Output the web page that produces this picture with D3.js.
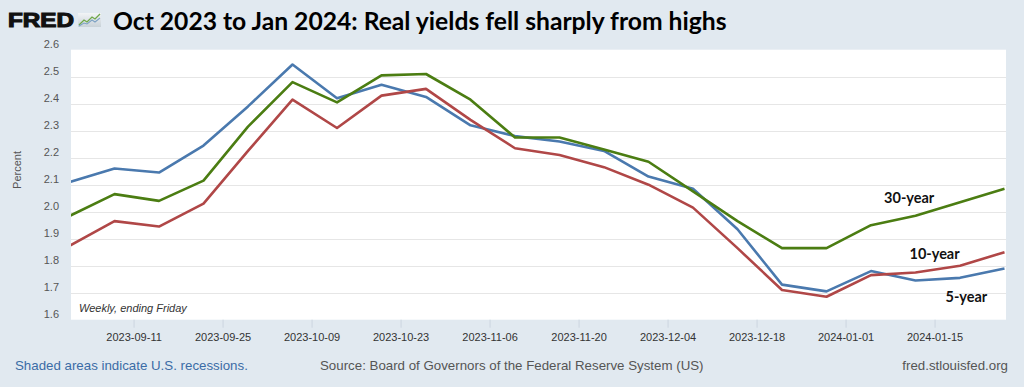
<!DOCTYPE html>
<html>
<head>
<meta charset="utf-8">
<script src="https://cdn.jsdelivr.net/npm/d3@7"></script>
<style>
  html, body { margin: 0; padding: 0; background: #e1e9f0; }
  svg { display: block; }
</style>
</head>
<body>
<div id="chart"></div>
<script>
// weekly, ending Friday
const dates = [
  "2023-09-01", "2023-09-08", "2023-09-15", "2023-09-22", "2023-09-29",
  "2023-10-06", "2023-10-13", "2023-10-20", "2023-10-27",
  "2023-11-03", "2023-11-10", "2023-11-17", "2023-11-24",
  "2023-12-01", "2023-12-08", "2023-12-15", "2023-12-22", "2023-12-29",
  "2024-01-05", "2024-01-12", "2024-01-19", "2024-01-26"
];
const fiveYear = [2.11, 2.16, 2.145, 2.245, 2.39, 2.545, 2.42, 2.47, 2.425, 2.32, 2.28, 2.26, 2.225, 2.13, 2.085, 1.935, 1.73, 1.705, 1.78, 1.745, 1.755, 1.79];
const tenYear = [1.875, 1.965, 1.945, 2.03, 2.225, 2.415, 2.31, 2.43, 2.455, 2.34, 2.235, 2.21, 2.165, 2.1, 2.015, 1.865, 1.71, 1.685, 1.765, 1.775, 1.8, 1.85];
const thirtyYear = [1.985, 2.065, 2.04, 2.115, 2.315, 2.48, 2.405, 2.505, 2.51, 2.415, 2.275, 2.275, 2.23, 2.185, 2.075, 1.965, 1.865, 1.865, 1.95, 1.985, 2.035, 2.085];

const tickDates = ["2023-09-11", "2023-09-25", "2023-10-09", "2023-10-23", "2023-11-06", "2023-11-20", "2023-12-04", "2023-12-18", "2024-01-01", "2024-01-15"];
const yTicks = [1.6, 1.7, 1.8, 1.9, 2.0, 2.1, 2.2, 2.3, 2.4, 2.5, 2.6];

// annotation anchors (date, value) for series labels
const seriesLabels = [
  {name: "30-year", date: "2024-01-11", value: 2.032},
  {name: "10-year", date: "2024-01-15", value: 1.825},
  {name: "5-year",  date: "2024-01-20", value: 1.665}
];

const title = "Oct 2023 to Jan 2024: Real yields fell sharply from highs";

const width = 1024, height = 387;
const parse = d3.utcParse("%Y-%m-%d");

const series = [
  {name: "5-year", values: fiveYear, color: "#4a79ae"},
  {name: "10-year", values: tenYear, color: "#b04747"},
  {name: "30-year", values: thirtyYear, color: "#4b7d12"}
];

const plot = {left: 71, right: 1006, top: 49.7, bottom: 319.7};

const x = d3.scaleUtc()
  .domain([parse(dates[0]), parse(dates[dates.length - 1])])
  .range([70, 1004.5]);
const y = d3.scaleLinear()
  .domain([1.6, 2.6])
  .range([plot.bottom, plot.top]);

const svg = d3.select("#chart").append("svg")
  .attr("width", width)
  .attr("height", height)
  .attr("font-family", "'Liberation Sans', Arial, sans-serif");

svg.append("rect")
  .attr("width", width).attr("height", height)
  .attr("fill", "#e1e9f0");

// FRED logo
svg.append("text")
  .attr("x", 8).attr("y", 27)
  .attr("font-size", 19.5)
  .attr("font-weight", 900)
  .attr("fill", "#111")
  .attr("stroke", "#111")
  .attr("stroke-width", 1.1)
  .attr("textLength", 66)
  .attr("lengthAdjust", "spacingAndGlyphs")
  .text("FRED");

const logo = svg.append("g").attr("transform", "translate(78,13)");
const grad = svg.append("defs").append("linearGradient")
  .attr("id", "lg").attr("x1", 0).attr("y1", 0).attr("x2", 0).attr("y2", 1);
grad.append("stop").attr("offset", 0).attr("stop-color", "#f2f4f6");
grad.append("stop").attr("offset", 1).attr("stop-color", "#c9d2d8");
logo.append("rect").attr("width", 23).attr("height", 14).attr("fill", "url(#lg)");
logo.append("path")
  .attr("d", "M1,12 L6,7 L9,9 L14,4 L17,6 L22,1")
  .attr("fill", "none").attr("stroke", "#6fa84a").attr("stroke-width", 1.3);
logo.append("path")
  .attr("d", "M1,13 L6,10 L9,11 L14,7 L17,9 L22,5")
  .attr("fill", "none").attr("stroke", "#7ea3c4").attr("stroke-width", 1.1);

// title, sized to the reference width
const titleText = svg.append("text")
  .attr("x", 113).attr("y", 30)
  .attr("font-family", "Lato, 'Open Sans', sans-serif")
  .attr("font-weight", 700)
  .attr("font-size", 23)
  .attr("fill", "#000")
  .text(title);
const tw = titleText.node().getComputedTextLength();
titleText.attr("font-size", 23 * 614 / tw);

// plot background
svg.append("rect")
  .attr("x", plot.left).attr("y", plot.top)
  .attr("width", plot.right - plot.left)
  .attr("height", plot.bottom - plot.top)
  .attr("fill", "#fff");

svg.append("clipPath").attr("id", "clip")
  .append("rect")
  .attr("x", plot.left).attr("y", plot.top - 3)
  .attr("width", plot.right - plot.left)
  .attr("height", plot.bottom - plot.top + 3);

// gridlines
svg.append("g")
  .selectAll("line")
  .data(yTicks.filter(d => d > 1.6 && d < 2.6))
  .join("line")
  .attr("x1", plot.left).attr("x2", plot.right)
  .attr("y1", d => Math.round(y(d)) + 0.5)
  .attr("y2", d => Math.round(y(d)) + 0.5)
  .attr("stroke", "#e6e6e6");

// y labels
svg.append("g")
  .selectAll("text")
  .data(yTicks)
  .join("text")
  .attr("x", 59)
  .attr("y", d => y(d) - 1.5)
  .attr("text-anchor", "end")
  .attr("font-size", 11)
  .attr("fill", "#555")
  .text(d => d3.format(".1f")(d));

svg.append("text")
  .attr("transform", "translate(21,170) rotate(-90)")
  .attr("text-anchor", "middle")
  .attr("font-size", 11)
  .attr("fill", "#555")
  .text("Percent");

// x axis
const xAxis = d3.axisBottom(x)
  .tickValues(tickDates.map(parse))
  .tickFormat(d3.utcFormat("%Y-%m-%d"))
  .tickSize(8)
  .tickPadding(6);
const gx = svg.append("g")
  .attr("transform", `translate(0,${plot.bottom})`)
  .call(xAxis);
gx.select(".domain").remove();
gx.selectAll(".tick line").attr("stroke", "#ccd6e0");
gx.selectAll(".tick text")
  .attr("font-size", 11)
  .attr("font-family", "'Liberation Sans', Arial, sans-serif")
  .attr("fill", "#333");

svg.append("text")
  .attr("x", 79).attr("y", 312)
  .attr("font-size", 11)
  .attr("font-style", "italic")
  .attr("fill", "#333")
  .text("Weekly, ending Friday");

// lines
const line = d3.line()
  .x((d, i) => x(parse(dates[i])))
  .y(d => y(d));

svg.append("g")
  .attr("clip-path", "url(#clip)")
  .selectAll("path")
  .data(series)
  .join("path")
  .attr("fill", "none")
  .attr("stroke", d => d.color)
  .attr("stroke-width", 2.6)
  .attr("stroke-linejoin", "round")
  .attr("d", d => line(d.values));

// series labels
svg.append("g")
  .selectAll("text")
  .data(seriesLabels)
  .join("text")
  .attr("x", d => x(parse(d.date)))
  .attr("y", d => y(d.value))
  .attr("text-anchor", "middle")
  .attr("font-family", "Lato, 'Open Sans', sans-serif")
  .attr("font-weight", 700)
  .attr("font-size", 14.5)
  .attr("fill", "#111")
  .text(d => d.name);

// footer
svg.append("text")
  .attr("x", 15).attr("y", 370)
  .attr("font-size", 13.3)
  .attr("fill", "#3b6ca6")
  .text("Shaded areas indicate U.S. recessions.");
svg.append("text")
  .attr("x", 320).attr("y", 370)
  .attr("font-size", 13.3)
  .attr("fill", "#555")
  .text("Source: Board of Governors of the Federal Reserve System (US)");
svg.append("text")
  .attr("x", 1008).attr("y", 370)
  .attr("text-anchor", "end")
  .attr("font-size", 13.3)
  .attr("fill", "#555")
  .text("fred.stlouisfed.org");
</script>
</body>
</html>
